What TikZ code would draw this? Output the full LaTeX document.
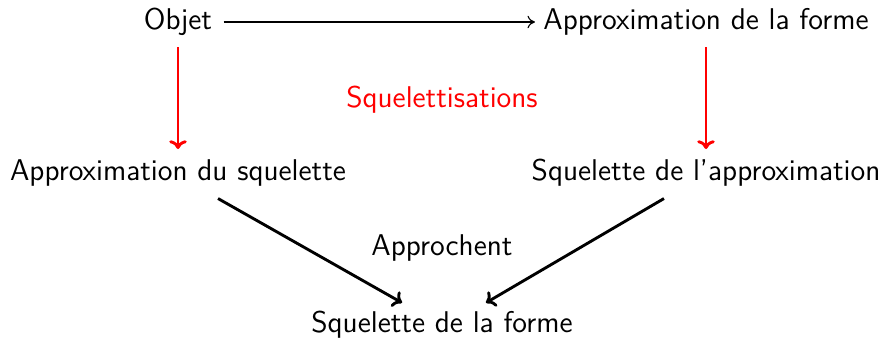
\documentclass[tikz,border=0pt]{standalone}
\usetikzlibrary{arrows.meta}
\begin{document}
\begin{tikzpicture}[x=0.4pt,y=-0.4pt,
  lbl/.style={font=\sffamily\fontsize{12}{14}\selectfont, inner sep=0pt, text height=8.5pt, text depth=2.3pt},
  thinarrow/.style={-{To[length=3pt,width=5pt]}, line width=0.45pt},
  redarrow/.style={-{To[length=3.5pt,width=7pt]}, line width=1.15pt, red},
  blkarrow/.style={-{To[length=3.5pt,width=7pt]}, line width=1.15pt}]
\useasboundingbox (0,0) rectangle (886,343);
\node[lbl] (obj) at (178,22) {Objet};
\node[lbl] (af) at (706,22) {Approximation de la forme};
\node[lbl, red] (sq) at (442,100) {Squelettisations};
\node[lbl] (as) at (178,173) {Approximation du squelette};
\node[lbl] (sa) at (706,173) {Squelette de l'approximation};
\node[lbl] (ap) at (442,248) {Approchent};
\node[lbl] (sf) at (442,325) {Squelette de la forme};
\draw[thinarrow] ([xshift=4.4pt]obj.east) -- ([xshift=-3.2pt]af.west);
\draw[redarrow] ([yshift=-4.5pt]obj.south) -- ([yshift=4pt]as.north);
\draw[redarrow] ([yshift=-4.5pt]af.south) -- ([yshift=4pt]sa.north);
\draw[blkarrow] ([xshift=16pt,yshift=-4.6pt]as.south) -- ([xshift=-16pt,yshift=3.3pt]sf.north);
\draw[blkarrow] ([xshift=-16.8pt,yshift=-4.6pt]sa.south) -- ([xshift=17.6pt,yshift=3.3pt]sf.north);
\end{tikzpicture}
\end{document}
